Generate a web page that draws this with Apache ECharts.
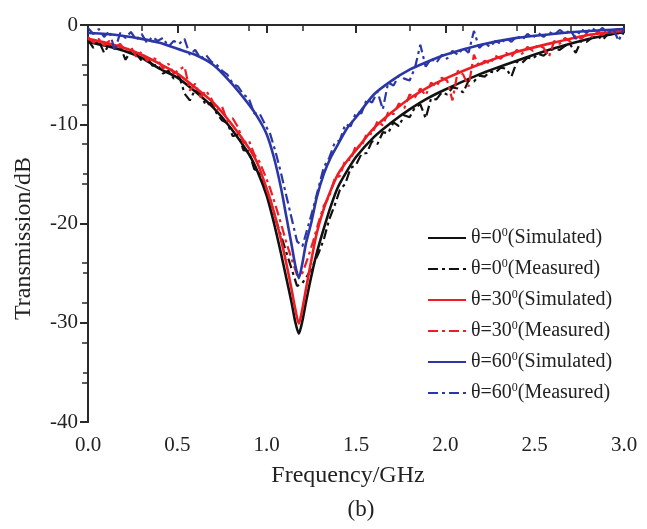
<!DOCTYPE html>
<html>
<head>
<meta charset="utf-8">
<script src="https://cdn.jsdelivr.net/npm/echarts@6/dist/echarts.min.js"></script>
<style>
  html, body { margin: 0; padding: 0; background: #fff; }
  #chart { width: 647px; height: 529px; }
</style>
</head>
<body>
<div id="chart"></div>
<script>
// Simulated curves (frequency in GHz, transmission in dB)
const simFreq = [0, 0.1, 0.2, 0.3, 0.4, 0.5, 0.6, 0.7, 0.8, 0.9, 0.95, 1.0, 1.04, 1.08, 1.11, 1.14, 1.16, 1.18, 1.2, 1.22, 1.25, 1.28, 1.32, 1.36, 1.4, 1.45, 1.5, 1.6, 1.7, 1.8, 1.9, 2.0, 2.2, 2.4, 2.6, 2.8, 3.0];
const sim0 = [-1.7, -2.1, -2.6, -3.3, -4.4, -5.3, -6.7, -8.3, -10.4, -13.0, -14.8, -17.2, -19.9, -23.0, -25.5, -28.0, -29.9, -31.1, -29.8, -27.9, -25.3, -23.0, -20.5, -18.2, -16.3, -14.7, -13.3, -11.3, -9.8, -8.5, -7.4, -6.5, -4.9, -3.6, -2.4, -1.4, -0.7];
const sim30 = [-1.4, -1.8, -2.3, -3.0, -3.9, -4.9, -6.3, -7.8, -9.9, -12.4, -14.0, -16.5, -18.8, -21.6, -24.0, -26.7, -28.6, -30.1, -28.6, -26.6, -23.7, -21.0, -18.5, -16.6, -15.0, -13.7, -12.6, -10.4, -8.8, -7.4, -6.3, -5.4, -3.9, -2.7, -1.8, -1.0, -0.6];
const sim60 = [-0.8, -0.9, -1.1, -1.4, -1.8, -2.4, -3.0, -4.0, -5.8, -8.0, -9.3, -11.0, -13.3, -16.4, -19.3, -22.2, -24.2, -25.5, -24.0, -22.0, -19.9, -17.4, -15.0, -13.3, -12.0, -10.4, -9.3, -7.0, -5.6, -4.5, -3.7, -3.0, -2.0, -1.3, -0.9, -0.6, -0.4];

// Measured curves
const measFreq = [0.00, 0.03, 0.06, 0.09, 0.12, 0.15, 0.18, 0.21, 0.24, 0.27, 0.30, 0.33, 0.36, 0.39, 0.42, 0.45, 0.48, 0.51, 0.54, 0.57, 0.60, 0.63, 0.66, 0.69, 0.72, 0.75, 0.78, 0.81, 0.84, 0.87, 0.90, 0.93, 0.96, 0.99, 1.02, 1.05, 1.08, 1.11, 1.14, 1.17, 1.20, 1.23, 1.26, 1.29, 1.32, 1.35, 1.38, 1.41, 1.44, 1.47, 1.50, 1.53, 1.56, 1.59, 1.62, 1.65, 1.68, 1.71, 1.74, 1.77, 1.80, 1.83, 1.86, 1.89, 1.92, 1.95, 1.98, 2.01, 2.04, 2.07, 2.10, 2.13, 2.16, 2.19, 2.22, 2.25, 2.28, 2.31, 2.34, 2.37, 2.40, 2.43, 2.46, 2.49, 2.52, 2.55, 2.58, 2.61, 2.64, 2.67, 2.70, 2.73, 2.76, 2.79, 2.82, 2.85, 2.88, 2.91, 2.94, 2.97, 3.00];
const meas0 = [-1.5, -2.3, -1.6, -2.8, -1.9, -2.4, -2.2, -3.5, -2.6, -2.9, -3.6, -3.2, -4.1, -4.0, -4.9, -4.6, -5.4, -5.1, -6.9, -7.6, -6.5, -7.0, -8.1, -7.8, -8.9, -9.6, -9.9, -11.2, -11.0, -12.6, -12.7, -14.5, -14.9, -16.3, -17.6, -19.6, -21.2, -22.9, -24.6, -26.3, -26.0, -25.2, -24.2, -23.0, -21.6, -19.6, -18.2, -16.6, -16.0, -14.4, -14.1, -13.0, -12.9, -11.7, -12.0, -10.8, -10.9, -9.8, -10.2, -9.1, -9.3, -8.3, -8.0, -9.4, -7.4, -7.5, -6.8, -7.0, -6.3, -6.4, -6.8, -5.6, -5.7, -5.1, -5.2, -4.7, -4.8, -4.3, -4.4, -5.2, -3.7, -3.8, -3.3, -3.4, -2.9, -3.1, -2.6, -2.4, -2.5, -2.1, -2.0, -2.8, -1.6, -1.7, -1.3, -1.1, -1.5, -0.9, -1.0, -0.7, -0.9];
const meas30 = [-1.2, -1.8, -1.4, -2.1, -1.6, -2.3, -1.9, -2.6, -2.2, -3.2, -2.7, -3.6, -3.3, -3.5, -4.4, -3.9, -4.9, -4.5, -4.2, -6.6, -5.9, -7.3, -6.6, -7.4, -8.6, -8.2, -9.7, -9.4, -10.3, -11.9, -11.6, -13.0, -13.8, -15.1, -16.5, -18.2, -20.0, -21.9, -23.6, -25.2, -25.0, -23.5, -21.8, -19.9, -18.2, -17.3, -15.5, -15.2, -13.6, -13.6, -12.1, -12.3, -10.9, -11.0, -9.7, -10.1, -8.8, -9.0, -7.9, -8.4, -7.0, -7.3, -6.4, -7.1, -5.8, -6.2, -5.3, -5.6, -7.6, -4.6, -5.0, -6.2, -3.0, -4.2, -3.6, -3.9, -3.1, -3.4, -2.8, -3.2, -2.5, -2.9, -2.2, -2.6, -2.0, -2.3, -3.2, -1.6, -1.9, -1.3, -1.7, -1.1, -1.4, -0.9, -1.2, -0.7, -1.0, -0.6, -0.9, -0.4, -0.7];
const meas60 = [-0.3, -0.9, -0.4, -1.2, -0.6, -2.6, -0.8, -1.3, -0.7, -1.5, -0.9, -1.8, -1.2, -1.6, -1.3, -2.2, -1.6, -1.9, -1.4, -3.0, -2.5, -3.4, -3.0, -3.7, -4.0, -4.6, -5.0, -5.9, -6.2, -7.0, -7.4, -8.9, -8.9, -10.0, -11.0, -12.8, -14.9, -17.2, -19.5, -21.8, -22.3, -20.4, -18.5, -16.4, -14.3, -13.4, -11.9, -11.6, -10.0, -10.2, -8.8, -8.9, -7.5, -7.8, -6.7, -8.5, -5.8, -6.1, -5.1, -5.4, -5.6, -4.3, -2.0, -4.2, -3.4, -3.8, -3.0, -3.4, -2.6, -3.0, -2.3, -2.8, -0.6, -2.3, -1.8, -2.2, -1.6, -1.9, -1.3, -1.7, -1.1, -1.5, -0.9, -1.3, -0.8, -1.2, -0.7, -1.0, -0.5, -0.9, -0.5, -1.4, -0.4, -0.8, -0.3, -0.7, -0.3, -0.9, -0.4, -1.6, -0.3];

const seriesNames = ['θ=0°(Simulated)', 'θ=0°(Measured)', 'θ=30°(Simulated)', 'θ=30°(Measured)', 'θ=60°(Simulated)', 'θ=60°(Measured)'];
const legendParts = [['θ=0', '(Simulated)'], ['θ=0', '(Measured)'], ['θ=30', '(Simulated)'], ['θ=30', '(Measured)'], ['θ=60', '(Simulated)'], ['θ=60', '(Measured)']];
const colors = ['#111111', '#111111', '#ee1d23', '#ee1d23', '#2b37a6', '#2b37a6'];

const FONT = 'Liberation Serif';
const dashDot = [10, 4, 3, 4];

function pairs(xs, ys) {
  return xs.map((x, i) => [x, ys[i]]);
}

const curves = [
  { x: simFreq, y: sim0, measured: false },
  { x: measFreq, y: meas0, measured: true },
  { x: simFreq, y: sim30, measured: false },
  { x: measFreq, y: meas30, measured: true },
  { x: simFreq, y: sim60, measured: false },
  { x: measFreq, y: meas60, measured: true },
];

const series = curves.map((c, i) => ({
  name: seriesNames[i],
  type: 'line',
  symbol: 'none',
  smooth: c.measured ? false : 0.25,
  data: pairs(c.x, c.y),
  color: colors[i],
  lineStyle: {
    color: colors[i],
    width: c.measured ? 2.2 : 2.6,
    type: c.measured ? dashDot : 'solid',
  },
  emphasis: { disabled: true },
  z: 2 + i,
}));

const chart = echarts.init(document.getElementById('chart'));

const axisLine = { show: true, lineStyle: { color: '#2a2a2a', width: 2 } };

const option = {
  animation: false,
  backgroundColor: '#ffffff',
  title: {
    text: '(b)',
    left: 356,
    top: 493,
    textAlign: 'center',
    textStyle: { fontFamily: FONT, fontSize: 23, fontWeight: 'normal', color: '#222' },
  },
  grid: { left: 88, right: 23, top: 25, bottom: 107 },
  legend: {
    orient: 'vertical',
    left: 422,
    top: 222,
    itemWidth: 38,
    itemHeight: 12,
    itemGap: 10,
    itemStyle: { opacity: 0 },
    data: seriesNames,
    formatter: (name) => {
      const p = legendParts[seriesNames.indexOf(name)];
      return '{t|' + p[0] + '}{s|0}{t|' + p[1] + '}';
    },
    textStyle: {
      fontFamily: FONT,
      color: '#222',
      rich: {
        t: { fontFamily: FONT, fontSize: 20, lineHeight: 22, color: '#222' },
        s: { fontFamily: FONT, fontSize: 12, lineHeight: 12, verticalAlign: 'top', color: '#222' },
      },
    },
  },
  xAxis: [
    {
      type: 'value',
      min: 0,
      max: 3,
      interval: 0.5,
      name: 'Frequency/GHz',
      nameLocation: 'middle',
      nameGap: 42,
      nameTextStyle: { fontFamily: FONT, fontSize: 24, color: '#222', padding: [0, 16, 0, 0] },
      axisLine: axisLine,
      axisTick: { show: true, inside: false, length: 8, lineStyle: { color: '#2a2a2a', width: 2 } },
      axisLabel: {
        fontFamily: FONT,
        fontSize: 21,
        color: '#222',
        margin: 13,
        formatter: (v) => v.toFixed(1),
      },
      splitLine: { show: false },
    },
    {
      type: 'value',
      position: 'top',
      min: 0,
      max: 3,
      interval: 0.3,
      axisLine: axisLine,
      axisTick: { show: true, inside: true, length: 6, lineStyle: { color: '#2a2a2a', width: 1.5 } },
      axisLabel: { show: false },
      splitLine: { show: false },
    },
  ],
  yAxis: [
    {
      type: 'value',
      min: -40,
      max: 0,
      interval: 10,
      name: 'Transmission/dB',
      nameLocation: 'middle',
      nameGap: 52,
      nameTextStyle: { fontFamily: FONT, fontSize: 24, color: '#222', padding: [0, 30, 0, 0] },
      axisLine: axisLine,
      axisTick: { show: true, inside: false, length: 8, lineStyle: { color: '#2a2a2a', width: 2 } },
      minorTick: { show: true, splitNumber: 2, length: 5, lineStyle: { color: '#2a2a2a', width: 1.5 } },
      axisLabel: { fontFamily: FONT, fontSize: 21, color: '#222', margin: 10 },
      splitLine: { show: false },
    },
    {
      type: 'value',
      position: 'right',
      min: -40,
      max: 0,
      interval: 4,
      axisLine: axisLine,
      axisTick: { show: true, inside: true, length: 6, lineStyle: { color: '#2a2a2a', width: 1.5 } },
      axisLabel: { show: false },
      splitLine: { show: false },
    },
  ],
  series: series,
};

chart.setOption(option);
</script>
</body>
</html>
